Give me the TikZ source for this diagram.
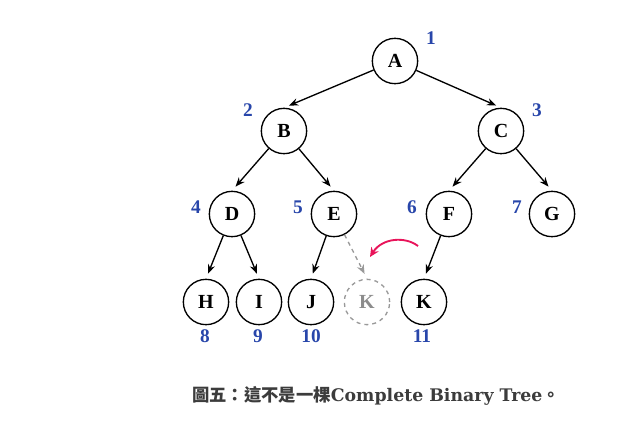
\documentclass[tikz,border=0pt]{standalone}
\usepackage{fontspec}
\setmainfont{Liberation Serif}
\newfontfamily\cjk{Noto Sans CJK TC}
\newfontfamily\capfont{DejaVu Serif}
\usepackage{xcolor}
\definecolor{idxblue}{RGB}{40,70,170}
\definecolor{movered}{RGB}{232,20,90}
\definecolor{capgray}{RGB}{60,60,60}
\usetikzlibrary{arrows.meta,positioning}

\begin{document}
\begin{tikzpicture}[x=0.75pt, y=-0.75pt,
      nd/.style={draw, circle, line width=1pt, minimum size=34pt, inner sep=0pt,
                 font=\fontsize{15}{17}\selectfont\bfseries},
      ghost/.style={nd, dashed, draw=gray!80, text=gray!90},
      idx/.style={text=idxblue, font=\fontsize{14.5}{16}\selectfont\bfseries},
      arr/.style={-{Stealth[length=7pt,width=5.5pt]}, line width=1pt, shorten >=4pt},
      garr/.style={arr, dashed, gray!80}
  ]
    \useasboundingbox (0,0) rectangle (628,437);
    % nodes
    \node[nd] (A) at (395,61)  {A};
    \node[nd] (B) at (284,131) {B};
    \node[nd] (C) at (501,131) {C};
    \node[nd] (D) at (232,214) {D};
    \node[nd] (E) at (334,214) {E};
    \node[nd] (F) at (449,214) {F};
    \node[nd] (G) at (552,214) {G};
    \node[nd] (H) at (206,302) {H};
    \node[nd] (I) at (259,302) {I};
    \node[nd] (J) at (311,302) {J};
    \node[ghost] (Kg) at (367,302) {K};
    \node[nd] (K) at (424,302) {K};
    % indices
    \node[idx] (n1) at (431,38)  {1};
    \node[idx] (n2) at (248,110) {2};
    \node[idx] (n3) at (537,110) {3};
    \node[idx] (n4) at (196,207) {4};
    \node[idx] (n5) at (298,207) {5};
    \node[idx] (n6) at (412,207) {6};
    \node[idx] (n7) at (517,207) {7};
    \node[idx] (n8) at (205,336) {8};
    \node[idx] (n9) at (258,336) {9};
    \node[idx] (n10) at (311,336) {10};
    \node[idx] (n11) at (422,336) {11};
    % edges
    \draw[arr] (A)--(B.north); \draw[arr] (A)--(C.north);
    \draw[arr] (B)--(D.north); \draw[arr] (B)--(E.north);
    \draw[arr] (C)--(F.north); \draw[arr] (C)--(G.north);
    \draw[arr] (D)--(H.north); \draw[arr] (D)--(I.north);
    \draw[arr] (E)--(J.north); \draw[garr] (E)--(Kg.north);
    \draw[arr] (F)--(K.north);
    % move
    \coordinate (mvs) at (418,246);
    \coordinate (mve) at (370,257);
    \draw[-{Stealth[length=7pt,width=6.5pt]}, line width=1.4pt, movered]
      (mvs) .. controls (405,236) and (382,238) .. (mve);
    % caption
    \node[text=capgray, font=\fontsize{13}{15}\selectfont\bfseries] (cap) at (376,396)
      {{\cjk 圖五：這不是一棵}{\capfont Complete Binary Tree}{\cjk 。}};
\end{tikzpicture}
\end{document}
